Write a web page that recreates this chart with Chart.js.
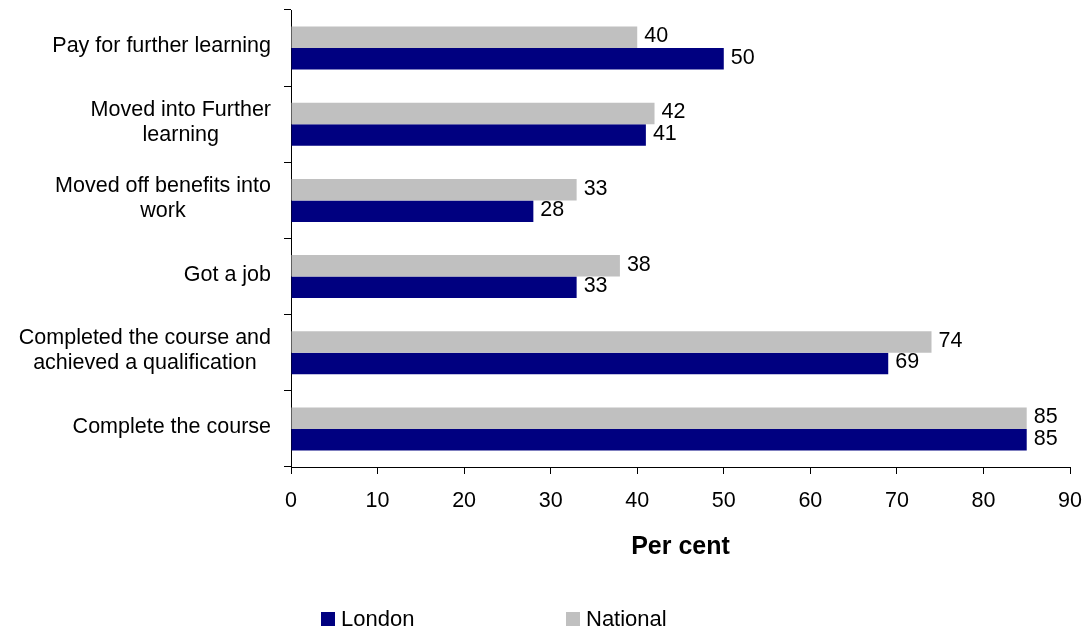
<!DOCTYPE html>
<html>
<head>
<meta charset="utf-8">
<script src="https://cdn.jsdelivr.net/npm/chart.js@4/dist/chart.umd.min.js"></script>
<style>
  body { margin: 0; background: #fff; font-family: "Liberation Sans", Arial, sans-serif; }
  #wrap { position: relative; width: 1092px; height: 634px; }
  .leg { position: absolute; top: 605px; height: 28px; font-size: 22px; line-height: 28px; color: #000; }
  .leg span { display: inline-block; width: 14px; height: 14px; vertical-align: middle; margin-right: 6px; margin-top: -3px; }
</style>
</head>
<body>
<div id="wrap">
  <canvas id="barChart"></canvas>
  <div class="leg" style="left:321px"><span style="background:#000080"></span>London</div>
  <div class="leg" style="left:566px"><span style="background:#c0c0c0"></span>National</div>
</div>
<script>
// categories, top to bottom
const categories = [
    ["Pay for further learning"],
    ["Moved into Further", "learning"],
    ["Moved off benefits into", "work"],
    ["Got a job"],
    ["Completed the course and", "achieved a qualification"],
    ["Complete the course"]
];
const nationalValues = [40, 42, 33, 38, 74, 85];
const londonValues = [50, 41, 28, 33, 69, 85];
const xTicks = [0, 10, 20, 30, 40, 50, 60, 70, 80, 90];

const FONT = "'Liberation Sans', Arial, sans-serif";

// category labels: lines centred on each other, block right-aligned to the axis
const yLabels = {
    id: "yLabels",
    afterDraw(chart) {
        const ctx = chart.ctx;
        const scale = chart.scales.y;
        ctx.save();
        ctx.font = "21.5px " + FONT;
        ctx.fillStyle = "#000";
        ctx.textAlign = "center";
        ctx.textBaseline = "middle";
        categories.forEach((lines, i) => {
            const yc = scale.getPixelForTick(i) - 2;
            const w = Math.max(...lines.map(l => ctx.measureText(l).width));
            const xc = scale.right - 20 - w / 2;
            lines.forEach((line, j) => {
                ctx.fillText(line, xc, yc + (j - (lines.length - 1) / 2) * 25);
            });
        });
        ctx.restore();
    }
};

// value labels at the end of each bar
const valueLabels = {
    id: "valueLabels",
    afterDatasetsDraw(chart) {
        const ctx = chart.ctx;
        ctx.save();
        ctx.font = "21.5px " + FONT;
        ctx.fillStyle = "#000";
        ctx.textAlign = "left";
        ctx.textBaseline = "middle";
        chart.data.datasets.forEach((ds, di) => {
            chart.getDatasetMeta(di).data.forEach((bar, i) => {
                ctx.fillText(ds.data[i], bar.x + 7, bar.y - 1);
            });
        });
        ctx.restore();
    }
};

const ctx = document.getElementById("barChart").getContext("2d");

new Chart(ctx, {
    type: "bar",
    data: {
        labels: categories,
        datasets: [
            { label: "National", data: nationalValues, backgroundColor: "#c0c0c0",
              categoryPercentage: 0.565, barPercentage: 1.0 },
            { label: "London", data: londonValues, backgroundColor: "#000080",
              categoryPercentage: 0.565, barPercentage: 1.0 }
        ]
    },
    options: {
        indexAxis: "y",
        responsive: true,
        maintainAspectRatio: false,
        animation: false,
        layout: { padding: { top: 10, right: 22, bottom: 72, left: 0 } },
        plugins: {
            legend: { display: false },
            tooltip: { enabled: false }
        },
        scales: {
            x: {
                min: 0,
                max: 90,
                afterBuildTicks: axis => { axis.ticks = xTicks.map(v => ({ value: v })); },
                afterFit: axis => {
                    axis.height = 95;
                    axis.paddingLeft = 0;
                    axis.paddingRight = 0;
                },
                grid: { drawOnChartArea: false, tickLength: 7, color: "#000" },
                border: { color: "#000" },
                ticks: { color: "#000", padding: 14, font: { family: FONT, size: 21.5 } },
                title: {
                    display: true,
                    text: "Per cent",
                    color: "#000",
                    padding: 0,
                    font: { family: FONT, size: 25, weight: "bold" }
                }
            },
            y: {
                afterFit: axis => { axis.width = 291; },
                grid: { drawOnChartArea: false, tickLength: 7, color: "#000" },
                border: { color: "#000" },
                ticks: { display: false }
            }
        }
    },
    plugins: [yLabels, valueLabels]
});
</script>
</body>
</html>
